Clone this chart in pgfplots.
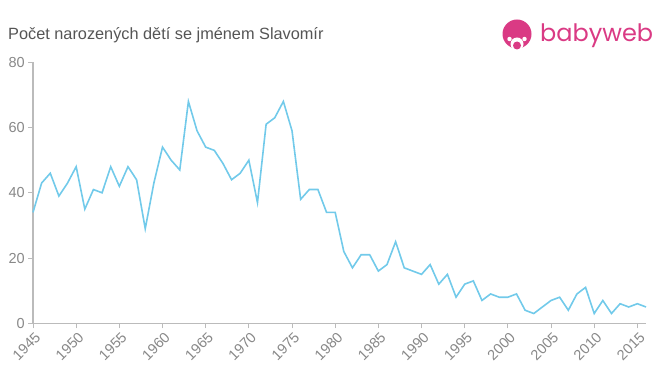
\documentclass[border=0pt]{standalone}
\usepackage{pgfplots}
\pgfplotsset{compat=1.18}
\usepackage{fontspec}
\setmainfont{Liberation Sans}
\newfontfamily\logofont{Poppins}
\definecolor{linec}{HTML}{72CAEA}
\definecolor{axc}{HTML}{BBBBBB}
\definecolor{tickc}{HTML}{888888}
\definecolor{titc}{HTML}{555555}
\definecolor{pinkc}{HTML}{DA3A84}
\begin{document}
\begin{tikzpicture}[x=1pt,y=1pt]
\useasboundingbox (0pt,0pt) rectangle (660pt,375pt);
\node[anchor=base west, font=\fontsize{16.3}{19}\selectfont, text=titc, inner sep=0pt] at (8pt,335pt) {Počet narozených dětí se jménem Slavomír};
% logo
\fill[pinkc] (517pt,341pt) circle (14.5pt);
\fill[white] (517pt,331pt) circle (6.5pt);
\fill[white] (509.5pt,336pt) circle (2.2pt);
\fill[white] (524.5pt,336pt) circle (2.2pt);
\fill[pinkc] (517pt,329.5pt) circle (4pt);
\node[anchor=base west, font=\logofont\fontsize{24}{27}\selectfont, text=pinkc, inner sep=0pt] at (540pt,333pt) {babyweb};
\begin{axis}[
  at={(33pt,51.7pt)}, anchor=south west,
  scale only axis, width=613pt, height=261pt,
  xmin=1945, xmax=2016, ymin=0, ymax=80,
  axis x line*=bottom, axis y line*=left,
  axis line style={axc, line width=1.3pt, -},
  xtick={1945,1950,...,2015}, ytick={0,20,40,60,80},
  tick style={axc, line width=1pt},
  tick align=outside, major tick length=5pt,
  xticklabel style={rotate=45, anchor=east, font=\fontsize{14.5}{16}\selectfont, text=tickc, inner sep=0pt, xshift=-1pt, yshift=-8pt},
  yticklabel style={font=\fontsize{14.5}{16}\selectfont, text=tickc, inner sep=1pt, xshift=-2pt},
  /pgf/number format/assume math mode=true,
  /pgf/number format/1000 sep={},
  clip=false,
]
\addplot[linec, line width=1.6pt, mark=none] coordinates {
(1945,34)(1946,43)(1947,46)(1948,39)(1949,43)(1950,48)(1951,35)(1952,41)(1953,40)(1954,48)
(1955,42)(1956,48)(1957,44)(1958,29)(1959,43)(1960,54)(1961,50)(1962,47)(1963,68)(1964,59)
(1965,54)(1966,53)(1967,49)(1968,44)(1969,46)(1970,50)(1971,37)(1972,61)(1973,63)(1974,68)
(1975,59)(1976,38)(1977,41)(1978,41)(1979,34)(1980,34)(1981,22)(1982,17)(1983,21)(1984,21)
(1985,16)(1986,18)(1987,25)(1988,17)(1989,16)(1990,15)(1991,18)(1992,12)(1993,15)(1994,8)
(1995,12)(1996,13)(1997,7)(1998,9)(1999,8)(2000,8)(2001,9)(2002,4)(2003,3)(2004,5)
(2005,7)(2006,8)(2007,4)(2008,9)(2009,11)(2010,3)(2011,7)(2012,3)(2013,6)(2014,5)
(2015,6)(2016,5)
};
\end{axis}
\end{tikzpicture}
\end{document}
